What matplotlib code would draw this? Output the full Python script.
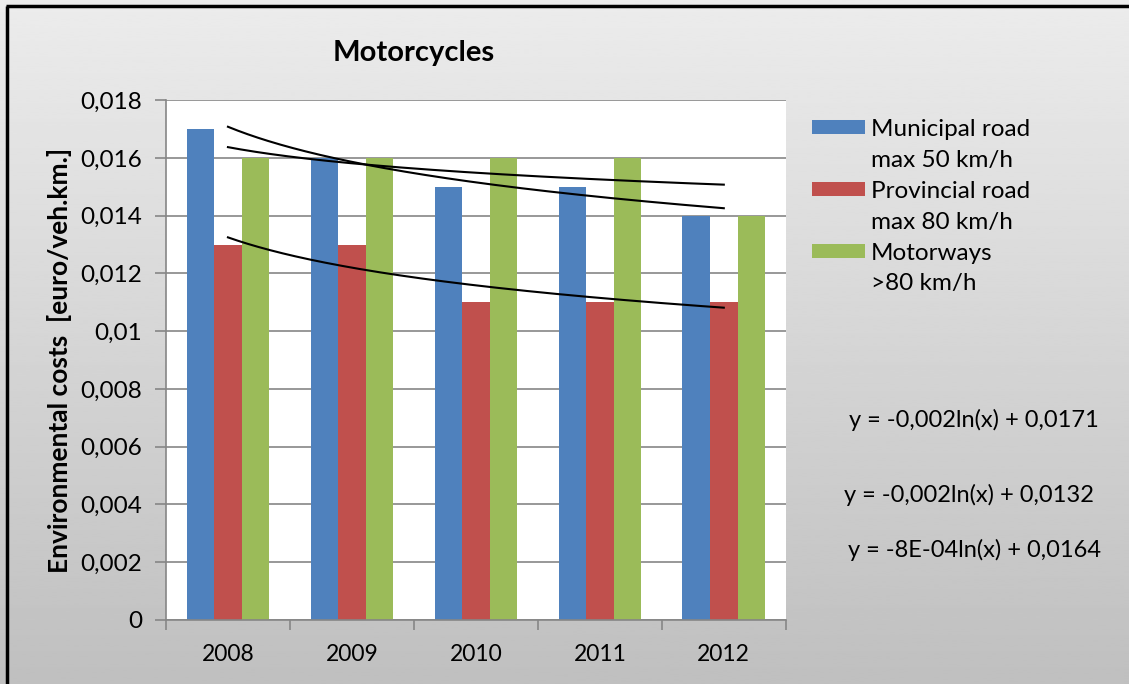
import matplotlib
matplotlib.use("Agg")
import matplotlib.pyplot as plt
import matplotlib.ticker as plticker
import numpy as np
from matplotlib.lines import Line2D
from matplotlib.patches import Rectangle

plt.rcParams['font.family'] = ['Lato', 'DejaVu Sans']

years = ['2008', '2009', '2010', '2011', '2012']
series_names = ['Municipal road\nmax 50 km/h', 'Provincial road\nmax 80 km/h', 'Motorways\n>80 km/h']
municipal = [0.017, 0.016, 0.015, 0.015, 0.014]
provincial = [0.013, 0.013, 0.011, 0.011, 0.011]
motorways = [0.016, 0.016, 0.016, 0.016, 0.014]
colors = ['#4F81BD', '#C0504D', '#9BBB59']
equations = ['y = -0,002ln(x) + 0,0171', 'y = -0,002ln(x) + 0,0132', 'y = -8E-04ln(x) + 0,0164']

W, H = 1129, 684
fig = plt.figure(figsize=(W / 100, H / 100), dpi=100)

# grey vertical gradient behind everything
bg = fig.add_axes([0, 0, 1, 1], zorder=-10)
grad = np.linspace(0.925, 0.75, 256).reshape(-1, 1)
bg.imshow(grad, aspect='auto', cmap='gray', vmin=0, vmax=1, extent=[0, 1, 0, 1])
bg.set_axis_off()

# frame (only top and left edges visible)
fig.add_artist(Line2D([0.0066, 0.0066], [0, 0.9905], color='black', lw=2.5,
                      solid_capstyle='butt', transform=fig.transFigure))
fig.add_artist(Line2D([0.0055, 1.0], [0.9905, 0.9905], color='black', lw=2.5,
                      solid_capstyle='butt', transform=fig.transFigure))

ax = fig.add_axes([0.147, 0.0936, 0.549, 0.760])
ax.set_facecolor('white')

x = np.arange(len(years))
width = 1 / 4.5
all_series = [municipal, provincial, motorways]
for i, (vals, c) in enumerate(zip(all_series, colors)):
    ax.bar(x + (i - 1) * width, vals, width, color=c, zorder=2)

# logarithmic trendlines, y = a*ln(t) + b with t = 1..5
t = np.arange(1, len(years) + 1)
tt = np.linspace(1, len(years), 200)
for vals in all_series:
    a, b = np.polyfit(np.log(t), vals, 1)
    ax.plot(tt - 1, a * np.log(tt) + b, color='black', lw=1.5, zorder=3)

ax.set_xlim(-0.5, len(years) - 0.5)
ax.set_ylim(0, 0.018)
ax.yaxis.set_major_locator(plticker.MultipleLocator(0.002))
ax.yaxis.set_major_formatter(plticker.FuncFormatter(lambda v, p: f"{round(v, 4):g}".replace('.', ',')))
ax.set_xticks(x)
ax.set_xticklabels(years)
ax.set_xticks(np.arange(-0.5, len(years)), minor=True)
ax.tick_params(axis='x', which='major', length=0, pad=17, labelsize=16.5)
ax.tick_params(axis='x', which='minor', length=7, color='#868686', width=1.2)
ax.tick_params(axis='y', length=8, color='#868686', width=1.2, labelsize=17.5, pad=9)
ax.grid(axis='y', color='#868686', lw=1.2, zorder=0)
ax.set_axisbelow(True)
for s in ['top', 'right']:
    ax.spines[s].set_visible(False)
for s in ['left', 'bottom']:
    ax.spines[s].set_color('#868686')
    ax.spines[s].set_linewidth(1.2)

ax.set_ylabel('Environmental costs  [euro/veh.km.]', fontsize=19, fontweight='bold', labelpad=6)
fig.text(0.366, 0.922, 'Motorcycles', ha='center', va='center', fontsize=21, fontweight='bold')

# legend drawn by hand: key box level with the first text line
line_h = 31
for i, (name, c) in enumerate(zip(series_names, colors)):
    y0 = 127 + i * 2 * line_h
    fig.add_artist(Rectangle((812 / W, 1 - (y0 + 7) / H), 53 / W, 14 / H,
                             facecolor=c, edgecolor='none', transform=fig.transFigure))
    for j, part in enumerate(name.split('\n')):
        fig.text(871 / W, 1 - (y0 + j * line_h) / H, part, ha='left', va='center_baseline',
                 fontsize=17.5)

eq_pos = [(0.863, 0.386), (0.858, 0.277), (0.863, 0.196)]
for (ex, ey), eq in zip(eq_pos, equations):
    fig.text(ex, ey, eq, ha='center', va='center', fontsize=17)

fig.savefig('out.png', dpi=100)
